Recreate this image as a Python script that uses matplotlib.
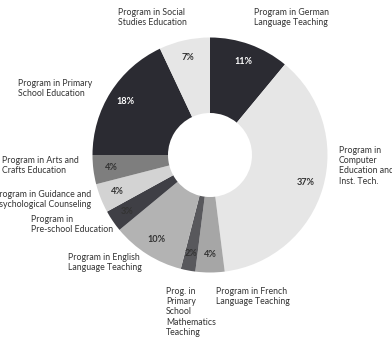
#!/usr/bin/env python3
"""Donut chart: distribution of students across teacher-education programs."""

import matplotlib
matplotlib.use("Agg")
import matplotlib.pyplot as plt

programs = [
    "Program in German\nLanguage Teaching",
    "Program in\nComputer\nEducation and\nInst. Tech.",
    "Program in French\nLanguage Teaching",
    "Prog. in\nPrimary\nSchool\nMathematics\nTeaching",
    "Program in English\nLanguage Teaching",
    "Program in\nPre-school Education",
    "Program in Guidance and\nPsychological Counseling",
    "Program in Arts and\nCrafts Education",
    "Program in Primary\nSchool Education",
    "Program in Social\nStudies Education",
]
shares = [11, 37, 4, 2, 10, 3, 4, 4, 18, 7]

colors = ["#2b2b32", "#e6e6e6", "#a6a6a6", "#58585c", "#b3b3b3",
          "#3f3f45", "#d3d3d3", "#7e7e7e", "#2b2b32", "#e6e6e6"]
pct_colors = ["white", "#333333", "#333333", "#333333", "#333333",
              "#333333", "#333333", "#333333", "white", "#333333"]

# label anchor (x, top) in pixels and alignment
label_pos = [(254, 8, "left"), (339, 146, "left"), (216, 287, "left"),
             (166, 287, "left"), (68, 253, "left"), (31, 215, "left"),
             (91, 190, "right"), (2, 156, "left"), (18, 79, "left"),
             (152, 8, "center")]

W, H = 392, 339
CX, CY, R, R_IN = 210, 155, 117.5, 42

plt.rcParams["font.family"] = ["Lato", "DejaVu Sans"]

fig = plt.figure(figsize=(W / 100, H / 100), dpi=100)
ax = fig.add_axes([0, 0, 1, 1])

wedges, _, autotexts = ax.pie(
    shares,
    colors=colors,
    center=(CX, H - CY),
    radius=R,
    startangle=90,
    counterclock=False,
    autopct=lambda p: f"{p:.0f}%",
    pctdistance=0.85,
    wedgeprops=dict(width=R - R_IN, linewidth=0),
    textprops=dict(fontsize=6.6, fontweight="bold"),
    frame=True,
)
ax.set_xlim(0, W)
ax.set_ylim(0, H)
ax.set_aspect("equal")
ax.axis("off")

for t, c in zip(autotexts, pct_colors):
    t.set_color(c)

for name, (x, y, ha) in zip(programs, label_pos):
    ax.text(x, H - y, name, ha=ha, va="top", fontsize=6.3,
            color="#333333", linespacing=1.17, multialignment=ha)

fig.savefig("out.png", dpi=100)
